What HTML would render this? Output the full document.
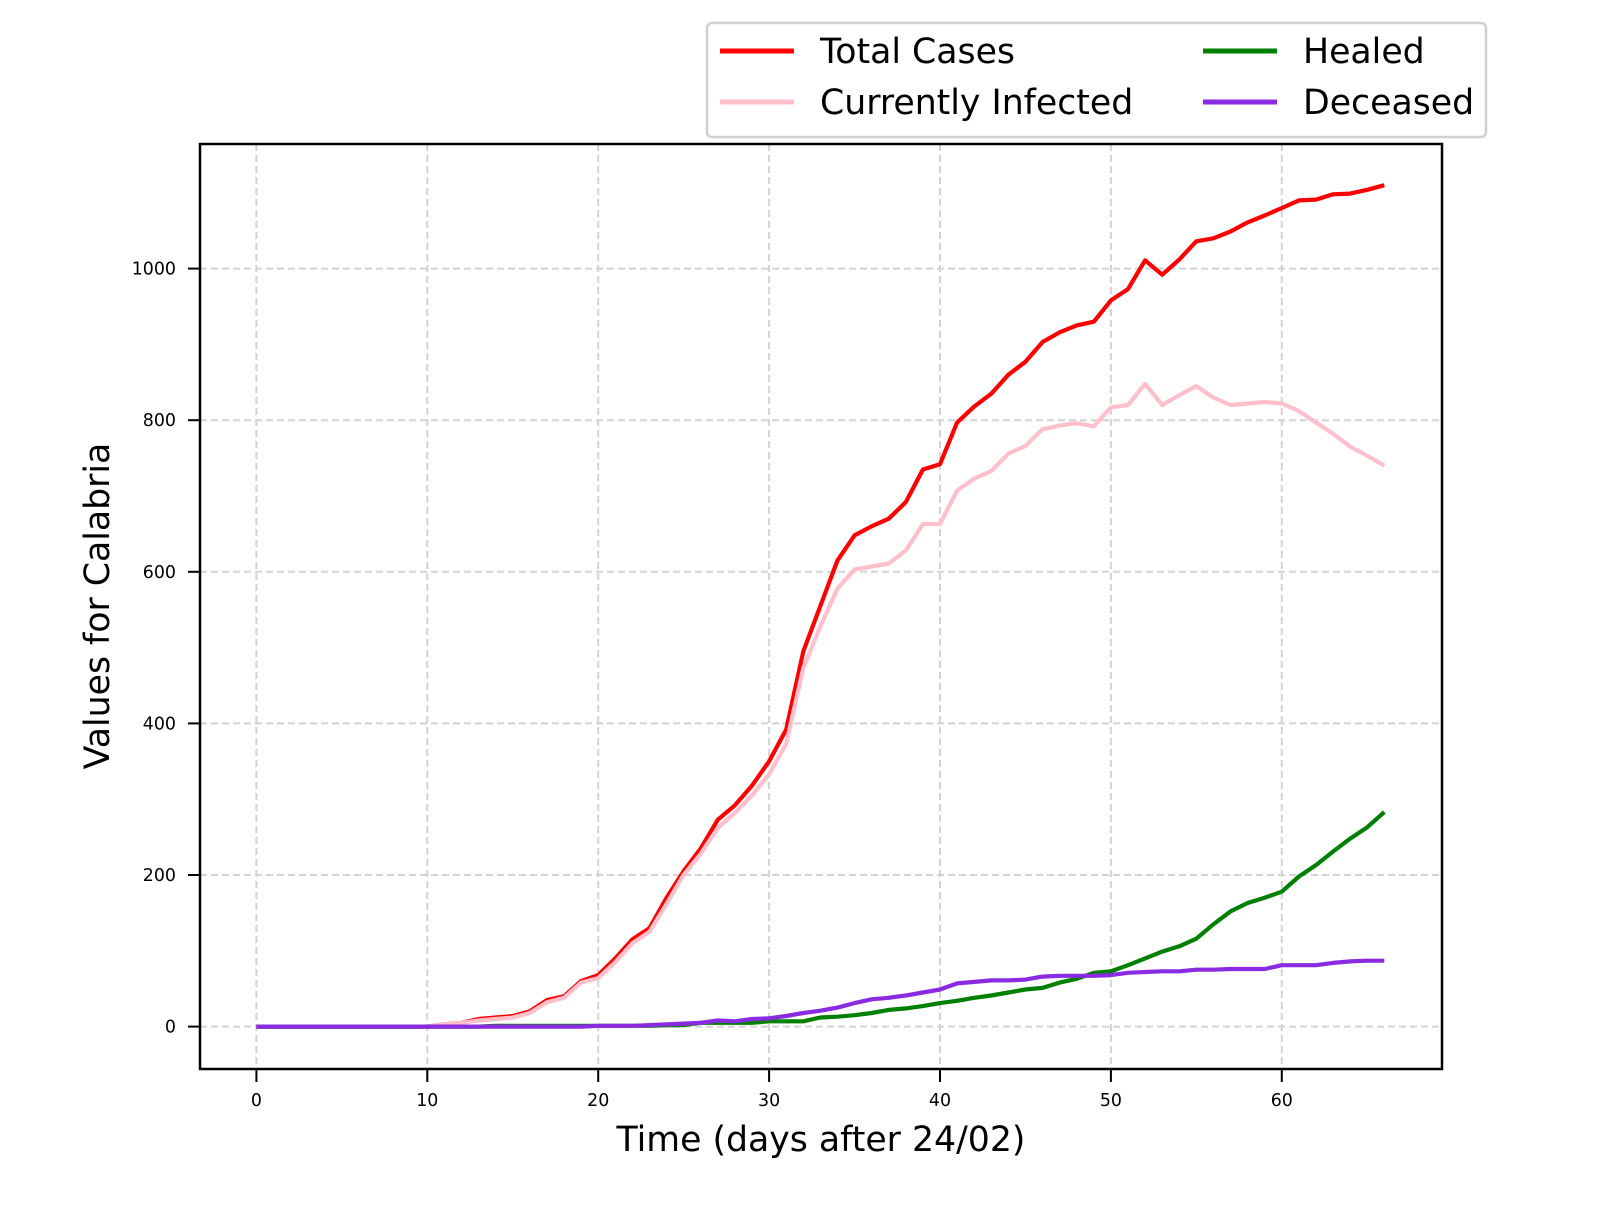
<!DOCTYPE html>
<html><head><meta charset="utf-8"><style>
html,body{margin:0;padding:0;background:#fff;}
svg text{font-family:"DejaVu Sans","Liberation Sans",sans-serif;}
</style></head><body>
<svg id="chart" width="1600" height="1200" viewBox="0 0 1600 1200" xmlns="http://www.w3.org/2000/svg">
<rect width="1600" height="1200" fill="#fff"/>
<g id="grid"></g>
<g id="series"></g>
<rect x="200" y="144" width="1242" height="925" fill="none" stroke="#000" stroke-width="2.5"/>
<g id="ticks"></g>
<text x="821" y="1151" font-size="34.7" text-anchor="middle">Time (days after 24/02)</text>
<text x="0" y="0" font-size="34.7" text-anchor="middle" transform="translate(109,606) rotate(-90)">Values for Calabria</text>
<g>
<rect x="707" y="23" width="779" height="114" rx="5" fill="#fff" stroke="#d0d0d0" stroke-width="2.5"/>
<g><line x1="720" y1="51" x2="794" y2="51" stroke="#ff0000" stroke-width="5"/><text x="820" y="63" font-size="34.7">Total Cases</text></g>
<g><line x1="720" y1="102" x2="794" y2="102" stroke="#ffc0cb" stroke-width="5"/><text x="820" y="114" font-size="34.7">Currently Infected</text></g>
<g><line x1="1203" y1="51" x2="1277" y2="51" stroke="#008000" stroke-width="5"/><text x="1303" y="63" font-size="34.7">Healed</text></g>
<g><line x1="1203" y1="102" x2="1277" y2="102" stroke="#8a2be2" stroke-width="5"/><text x="1303" y="114" font-size="34.7">Deceased</text></g>
</g>
</svg>
<script>
const totalCases=[0,0,0,0,0,0,0,0,0,0,0,3,5,10,12,14,20,35,40,60,68,90,115,130,170,205,235,273,292,318,350,392,495,555,615,648,660,670,692,735,742,797,818,835,860,877,903,916,925,930,958,973,1011,992,1012,1036,1040,1049,1061,1070,1080,1090,1091,1098,1099,1104,1110];
const currentlyInfected=[0,0,0,0,0,0,0,0,0,0,0,3,5,8,10,12,18,32,38,58,64,85,110,125,162,200,228,262,282,305,333,373,473,528,578,603,607,611,628,663,663,707,723,733,756,766,788,793,796,792,817,820,848,820,833,845,830,820,822,824,822,812,797,782,765,753,740];
const healed=[0,0,0,0,0,0,0,0,0,0,0,0,0,0,1,1,1,1,1,1,1,1,1,1,2,2,5,5,5,5,7,7,7,12,13,15,18,22,24,27,31,34,38,41,45,49,51,58,63,71,73,81,90,99,106,116,135,152,163,170,178,198,213,231,248,263,283];
const deceased=[0,0,0,0,0,0,0,0,0,0,0,0,0,0,0,0,0,0,0,0,1,1,1,2,3,4,5,8,7,10,11,14,18,21,25,31,36,38,41,45,49,57,59,61,61,62,66,67,67,67,68,71,72,73,73,75,75,76,76,76,81,81,81,84,86,87,87];
const xTicks=[0,10,20,30,40,50,60];
const yTicks=[0,200,400,600,800,1000];
const NS="http://www.w3.org/2000/svg";
function xs(v){return 256.4+v*17.09;}
function ys(v){return 1026.6-v*0.758;}
const grid=document.getElementById('grid'),ticks=document.getElementById('ticks'),ser=document.getElementById('series');
function mk(tag,attrs,parent){const e=document.createElementNS(NS,tag);for(const k in attrs)e.setAttribute(k,attrs[k]);parent.appendChild(e);return e;}
xTicks.forEach(t=>{
  const g=mk('line',{x1:xs(t),x2:xs(t),y1:144,y2:1069,stroke:'#d3d3d3','stroke-width':2,'stroke-dasharray':'7,4'},grid);
  
  
  const tk=mk('line',{x1:xs(t),x2:xs(t),y1:1069,y2:1082,stroke:'#000','stroke-width':2},ticks);
  
  
  const tx=mk('text',{x:xs(t),y:1106,'font-size':17.4,'text-anchor':'middle'},ticks);
  tx.textContent=t;
  
  
});
yTicks.forEach(t=>{
  const g=mk('line',{x1:200,x2:1442,y1:ys(t),y2:ys(t),stroke:'#d3d3d3','stroke-width':2,'stroke-dasharray':'7,4'},grid);
  
  
  const tk=mk('line',{x1:188,x2:200,y1:ys(t),y2:ys(t),stroke:'#000','stroke-width':2},ticks);
  
  
  const tx=mk('text',{x:176,y:ys(t)+6,'font-size':17.4,'text-anchor':'end'},ticks);
  tx.textContent=t;
  
  
});
function line(arr,color,name){
  const d=arr.map((v,i)=>(i?'L':'M')+xs(i).toFixed(1)+','+ys(v).toFixed(1)).join(' ');
  const p=mk('path',{d:d,fill:'none',stroke:color,'stroke-width':4.2,'stroke-linejoin':'round'},ser);
  
  
}
line(totalCases,'#ff0000','total-cases-line');
line(currentlyInfected,'#ffc0cb','currently-infected-line');
line(healed,'#008000','healed-line');
line(deceased,'#8a2be2','deceased-line');
</script>
</body></html>
